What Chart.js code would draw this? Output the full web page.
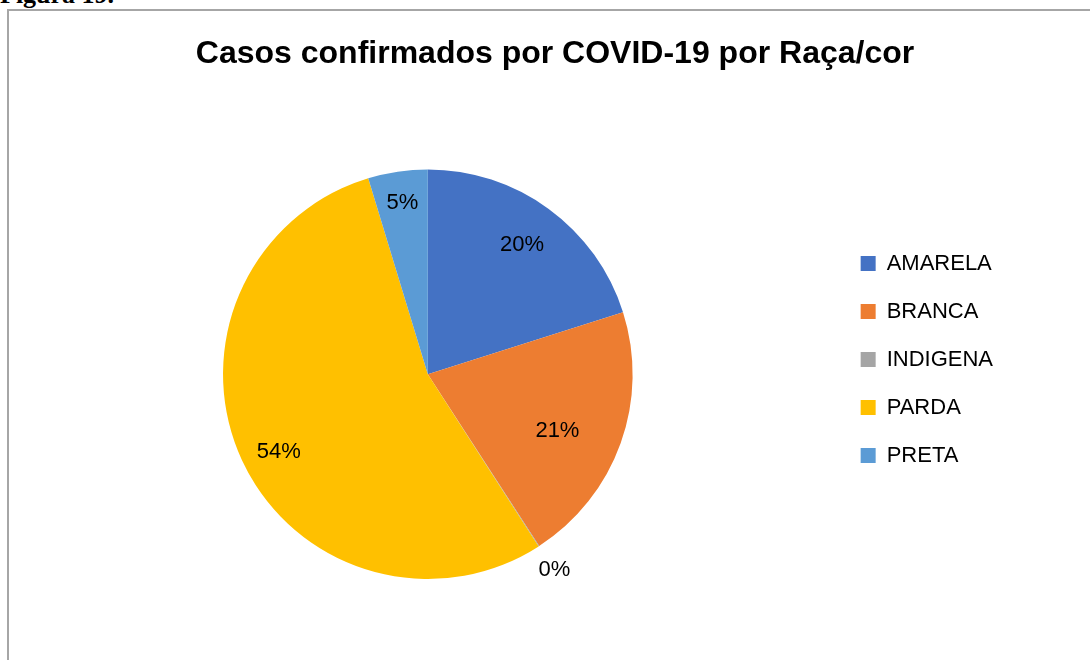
<!DOCTYPE html>
<html lang="pt-BR">
<head>
    <meta charset="UTF-8">
    <title>Casos confirmados por COVID-19 por Raça/cor</title>
    <script src="https://cdn.jsdelivr.net/npm/chart.js"></script>
    <style>
        * {
            box-sizing: border-box;
            margin: 0;
            padding: 0;
        }

        body {
            width: 1090px;
            height: 660px;
            overflow: hidden;
            background: #ffffff;
            position: relative;
        }

        .caption {
            position: absolute;
            left: 0;
            top: -18px;
            font: bold 26px/1 "Liberation Serif", "Times New Roman", serif;
            color: #000;
        }

        .frame {
            position: absolute;
            left: 7px;
            top: 9px;
            width: 1200px;
            height: 800px;
            border: 2px solid #a6a6a6;
        }

        #chart {
            position: absolute;
            left: 0;
            top: 0;
        }
    </style>
</head>
<body>
    <div class="caption">Figura 19.</div>
    <div class="frame"></div>
    <canvas id="chart" width="1090" height="660"></canvas>

    <script>
        // Data (percent share)
        const categories = ['AMARELA', 'BRANCA', 'INDIGENA', 'PARDA', 'PRETA'];
        const values = [20.1, 20.75, 0.05, 54.4, 4.7];
        const colors = ['#4472C4', '#ED7D31', '#A5A5A5', '#FFC000', '#5B9BD5'];

        // where each % label sits: fraction of the radius, and a small
        // angle nudge (degrees) off the slice middle, like Excel's best fit
        const labelRadius = [0.78, 0.69, 1.14, 0.82, 0.845];
        const labelNudge = [0, 3.8, 0, -2.6, 0];

        const FONT = '"Liberation Sans", Arial, sans-serif';

        // draws "20%" style labels on the slices
        const pctLabels = {
            id: 'pctLabels',
            afterDatasetsDraw(chart) {
                const ctx = chart.ctx;
                const meta = chart.getDatasetMeta(0);
                const total = values.reduce((a, b) => a + b, 0);
                ctx.save();
                ctx.font = '22px ' + FONT;
                ctx.fillStyle = '#000';
                ctx.textAlign = 'center';
                ctx.textBaseline = 'middle';
                meta.data.forEach((arc, i) => {
                    const p = arc.getProps(['x', 'y', 'startAngle', 'endAngle', 'outerRadius'], true);
                    const mid = (p.startAngle + p.endAngle) / 2 + labelNudge[i] * Math.PI / 180;
                    const r = p.outerRadius * labelRadius[i];
                    const txt = Math.round(values[i] / total * 100) + '%';
                    ctx.fillText(txt, p.x + Math.cos(mid) * r, p.y + Math.sin(mid) * r);
                });
                ctx.restore();
            }
        };

        // Excel puts the legend a bit above the pie centre and the title
        // centred on the whole frame, so move those two boxes after layout
        const boxShift = {
            id: 'boxShift',
            afterLayout(chart) {
                chart.legend.top += 70;
                chart.legend.bottom += 70;
                chart.titleBlock.left += 43;
                chart.titleBlock.right += 43;
            }
        };

        new Chart(document.getElementById('chart'), {
            type: 'pie',
            data: {
                labels: categories,
                datasets: [{
                    data: values,
                    backgroundColor: colors,
                    borderWidth: 0
                }]
            },
            options: {
                responsive: false,
                animation: false,
                layout: {
                    padding: { top: 0, left: 21, right: 87, bottom: 81 }
                },
                plugins: {
                    title: {
                        display: true,
                        text: 'Casos confirmados por COVID-19 por Raça/cor',
                        color: '#000',
                        font: { family: FONT, size: 32, weight: 'bold', lineHeight: 1.2 },
                        padding: { top: 35, bottom: 96 }
                    },
                    legend: {
                        position: 'right',
                        align: 'center',
                        labels: {
                            boxWidth: 15,
                            boxHeight: 15,
                            padding: 26,
                            color: '#000',
                            font: { family: FONT, size: 22 }
                        }
                    },
                    tooltip: { enabled: false }
                }
            },
            plugins: [pctLabels, boxShift]
        });
    </script>
</body>
</html>
